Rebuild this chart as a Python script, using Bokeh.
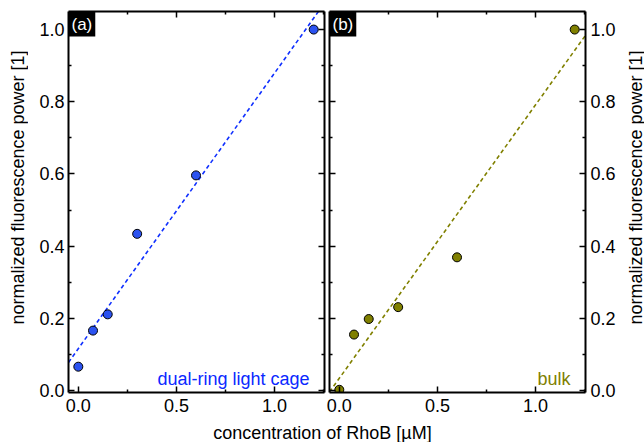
import numpy as np
from bokeh.plotting import figure
from bokeh.models import Range1d, LinearAxis, FixedTicker, PrintfTickFormatter, Label
from bokeh.layouts import row, column
from bokeh.embed import file_html
from bokeh.resources import INLINE

# ---------------- data ----------------
conc_a = [0.0, 0.075, 0.15, 0.3, 0.6, 1.2]
power_a = [0.066, 0.166, 0.211, 0.434, 0.596, 1.0]
conc_b = [0.0, 0.075, 0.15, 0.3, 0.6, 1.2]
power_b = [0.002, 0.155, 0.198, 0.231, 0.369, 1.0]
fit_a = [0.763, 0.116]   # slope, intercept
fit_b = [0.757, 0.034]   # slope, intercept
panel_labels = ["(a)", "(b)"]
series_names = ["dual-ring light cage", "bulk"]
x_title = "concentration of RhoB [µM]"
y_title = "normalized fluorescence power [1]"
x_major = [0.0, 0.5, 1.0]
x_minor = [0.25, 0.75, 1.25]
y_major = [0.0, 0.2, 0.4, 0.6, 0.8, 1.0]
y_minor = [0.1, 0.3, 0.5, 0.7, 0.9]

X0, X1 = -0.05, 1.255
Y0, Y1 = -0.0055, 1.05
FONT = "Liberation Sans"
BLUE_FILL, BLUE_LINE, BLUE_TEXT = "#2b52f0", "#1030ff", "#0a28ff"
OLIVE = "#808000"


def base_axis(ax):
    ax.axis_line_width = 2
    ax.axis_line_color = "black"
    ax.major_tick_in = 6
    ax.major_tick_out = 0
    ax.minor_tick_in = 3
    ax.minor_tick_out = 0
    ax.major_tick_line_width = 1.5
    ax.minor_tick_line_width = 1.5
    ax.major_tick_line_color = "black"
    ax.minor_tick_line_color = "black"
    ax.major_label_text_font = FONT
    ax.major_label_text_color = "black"
    ax.major_label_text_font_size = "18px"
    ax.axis_label_text_font = FONT
    ax.axis_label_text_font_style = "normal"
    ax.axis_label_text_font_size = "18px"
    ax.axis_label_text_color = "black"
    ax.formatter = PrintfTickFormatter(format="%.1f")


def labeled_axis(ax, major, minor, standoff):
    ax.ticker = FixedTicker(ticks=major, minor_ticks=minor)
    base_axis(ax)
    ax.major_label_standoff = standoff


def mirror_ticks(p, side, major, minor):
    # two label-free axes: one carries the long ticks, one the short ticks
    a1 = LinearAxis(ticker=FixedTicker(ticks=[], minor_ticks=major))
    base_axis(a1)
    a1.minor_tick_in = 6
    a1.major_label_standoff = 0
    p.add_layout(a1, side)
    a2 = LinearAxis(ticker=FixedTicker(ticks=[], minor_ticks=minor))
    base_axis(a2)
    a2.axis_line_color = None
    a2.minor_tick_in = 3
    a2.major_label_standoff = 0
    p.add_layout(a2, side)


def make_panel(xs, ys, fit, fill, linec, textc, name, plabel, yside,
               border_left, border_right):
    p = figure(frame_width=256, frame_height=381,
               x_range=Range1d(X0, X1), y_range=Range1d(Y0, Y1),
               output_backend="svg", toolbar_location=None,
               y_axis_location=yside,
               min_border_left=border_left, min_border_right=border_right,
               min_border_top=11, min_border_bottom=28)
    p.outline_line_color = None
    p.grid.visible = False
    p.background_fill_color = "white"
    p.border_fill_color = "white"
    labeled_axis(p.xaxis[0], x_major, x_minor, 6)
    labeled_axis(p.yaxis[0], y_major, y_minor, 4 if yside == "left" else 5)
    mirror_ticks(p, "above", x_major, x_minor)
    mirror_ticks(p, "right" if yside == "left" else "left", y_major, y_minor)
    # fit line
    fx = np.array([X0, X1])
    fy = fit[0] * fx + fit[1]
    p.line(fx, fy, line_color=linec, line_width=1.6, line_dash="4 3")
    # points
    p.scatter(xs, ys, size=9, fill_color=fill, line_color="black", line_width=1)
    # series label
    p.add_layout(Label(x=X1, y=0.033, x_offset=-15, text=name, text_align="right",
                       text_baseline="alphabetic", text_font=FONT,
                       text_font_size="18px", text_color=textc))
    # panel label
    p.add_layout(Label(x=X0, y=Y1, text=plabel, text_align="left", text_baseline="top",
                       text_font=FONT, text_font_size="17px", text_color="white",
                       background_fill_color="black", padding=3))
    return p


def title_strip(width, border_left):
    # narrow figure whose only visible content is a bottom-to-top axis title
    f = figure(width=width, frame_width=1, frame_height=352,
               x_range=Range1d(0, 1), y_range=Range1d(0, 1),
               output_backend="svg", toolbar_location=None,
               x_axis_type=None, y_axis_location="left",
               min_border_left=border_left, min_border_right=width - border_left - 1,
               min_border_top=11, min_border_bottom=57)
    f.outline_line_color = None
    f.grid.visible = False
    f.background_fill_color = None
    f.border_fill_color = None
    ax = f.yaxis[0]
    base_axis(ax)
    ax.ticker = FixedTicker(ticks=[], minor_ticks=[])
    ax.axis_line_color = None
    ax.major_tick_in = 0
    ax.minor_tick_in = 0
    ax.major_label_standoff = 0
    ax.axis_label_standoff = 0
    ax.axis_label = y_title
    return f


p0 = title_strip(28, 27)
p1 = make_panel(conc_a, power_a, fit_a, BLUE_FILL, BLUE_LINE, BLUE_TEXT,
                series_names[0], panel_labels[0], "left", 40, 2)
p2 = make_panel(conc_b, power_b, fit_b, OLIVE, OLIVE, OLIVE,
                series_names[1], panel_labels[1], "right", 3, 31)
p4 = title_strip(28, 27)

# shared x title
p3 = figure(width=644, height=22, x_range=Range1d(0, 1), y_range=Range1d(0, 1),
            output_backend="svg", toolbar_location=None,
            x_axis_type=None, y_axis_type=None, min_border=0)
p3.outline_line_color = None
p3.grid.visible = False
p3.background_fill_color = None
p3.border_fill_color = None
p3.add_layout(Label(x=0.5, y=0, text=x_title, text_align="center", text_baseline="bottom",
                    text_font=FONT, text_font_size="18px", text_color="black"))

layout = column(row(p0, p1, p2, p4, spacing=0), p3, spacing=0)
open("out.html", "w").write(file_html(layout, INLINE))
